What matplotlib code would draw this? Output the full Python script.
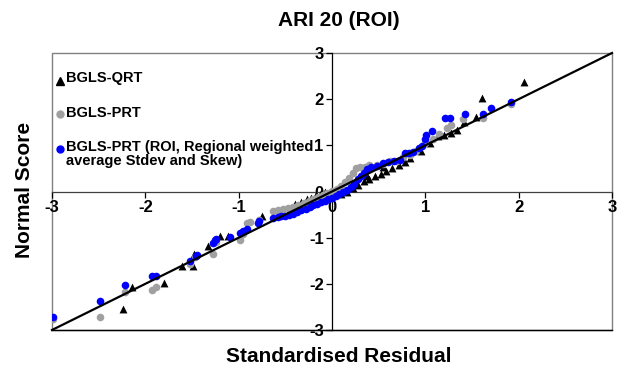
import matplotlib.pyplot as plt
from matplotlib.patches import Rectangle

plt.rcParams['font.family'] = ['Liberation Sans', 'DejaVu Sans']
plt.rcParams['font.weight'] = 'bold'

# BGLS-QRT
qrt_x = [-2.24, -2.14, -1.80, -1.61, -1.49, -1.48, -1.33, -1.20, -1.11, -0.75,
         -0.40, -0.33, -0.27, -0.22, -0.17, -0.12, -0.07, -0.02, 0.04, 0.10,
         0.16, 0.22, 0.28, 0.34, 0.37, 0.40, 0.46, 0.52, 0.55, 0.58, 0.64,
         0.72, 0.78, 0.84, 0.95, 1.05, 1.14, 1.20, 1.27, 1.34, 1.41, 1.54,
         1.61, 2.06]
qrt_y = [-2.54, -2.07, -1.98, -1.62, -1.62, -1.35, -1.17, -0.97, -0.97, -0.53,
         -0.28, -0.22, -0.16, -0.13, -0.08, -0.04, -0.02, 0.00, -0.04, -0.05,
         0.00, 0.07, 0.14, 0.22, 0.33, 0.28, 0.33, 0.38, 0.52, 0.44, 0.50,
         0.58, 0.64, 0.72, 0.88, 1.05, 1.20, 1.22, 1.27, 1.34, 1.50, 1.61,
         2.03, 2.37]

# BGLS-PRT
prt_x = [-2.99, -2.49, -2.22, -1.93, -1.89, -1.52, -1.47, -1.27, -1.24, -0.99,
         -0.95, -0.91, -0.88, -0.78, -0.63, -0.58, -0.52, -0.47, -0.42, -0.36,
         -0.30, -0.25, -0.20, -0.15, -0.10, -0.05, 0.00, 0.05, 0.10, 0.14,
         0.18, 0.22, 0.26, 0.30, 0.35, 0.40, 0.48, 0.55, 0.62, 0.70, 0.76,
         0.84, 0.90, 1.00, 1.08, 1.15, 1.23, 1.28, 1.40, 1.62, 1.92]
prt_y = [-2.77, -2.71, -2.18, -2.14, -2.07, -1.57, -1.42, -1.36, -1.10, -1.04,
         -0.92, -0.68, -0.66, -0.62, -0.43, -0.40, -0.38, -0.36, -0.33, -0.30,
         -0.25, -0.20, -0.16, -0.12, -0.07, -0.03, 0.02, 0.06, 0.12, 0.20,
         0.30, 0.40, 0.50, 0.52, 0.54, 0.57, 0.58, 0.60, 0.65, 0.66, 0.74,
         0.80, 0.88, 1.05, 1.13, 1.25, 1.38, 1.45, 1.56, 1.60, 1.90]

# BGLS-PRT with regional weighted average stdev and skew
roi_x = [-2.99, -2.49, -2.22, -1.93, -1.89, -1.52, -1.46, -1.45, -1.27, -1.25,
         -1.24, -1.09, -0.99, -0.95, -0.91, -0.79, -0.78, -0.63, -0.58, -0.55,
         -0.50, -0.46, -0.42, -0.38, -0.33, -0.28, -0.24, -0.20, -0.16, -0.12,
         -0.08, -0.04, 0.00, 0.04, 0.08, 0.12, 0.16, 0.20, 0.24, 0.28, 0.31,
         0.34, 0.37, 0.42, 0.48, 0.55, 0.60, 0.66, 0.73, 0.78, 0.82, 0.87,
         0.93, 0.96, 1.00, 1.01, 1.07, 1.21, 1.26, 1.43, 1.62, 1.70, 1.92]
roi_y = [-2.71, -2.37, -2.03, -1.82, -1.82, -1.51, -1.40, -1.37, -1.11, -1.06,
         -1.02, -0.99, -0.89, -0.86, -0.82, -0.68, -0.64, -0.57, -0.55, -0.54,
         -0.53, -0.51, -0.49, -0.45, -0.40, -0.37, -0.34, -0.30, -0.27, -0.23,
         -0.20, -0.16, -0.13, -0.09, -0.05, -0.01, 0.04, 0.10, 0.17, 0.26, 0.33,
         0.40, 0.48, 0.52, 0.55, 0.61, 0.63, 0.66, 0.69, 0.84, 0.84, 0.86,
         0.95, 0.98, 1.13, 1.23, 1.31, 1.60, 1.60, 1.67, 1.67, 1.81, 1.94]

line_x = [-3, 3]
line_y = [-3, 3]

ticks = [-3, -2, -1, 0, 1, 2, 3]

fig = plt.figure(figsize=(6.27, 3.74), dpi=100)
ax = fig.add_axes([52/627, 44/374, 560/627, 277/374])

ax.scatter(qrt_x, qrt_y, marker='^', s=32, color='black', linewidths=0, zorder=3)
ax.scatter(prt_x, prt_y, marker='o', s=30, color='#a0a0a0', linewidths=0, zorder=4)
ax.scatter(roi_x, roi_y, marker='o', s=30, color='#0000ff', linewidths=0, zorder=5)
ax.plot(line_x, line_y, color='black', lw=1.6, zorder=6, clip_on=False)

ax.set_xlim(-3, 3)
ax.set_ylim(-3, 3)

# axes crossing at the origin
ax.spines['left'].set_position('zero')
ax.spines['bottom'].set_position('zero')
ax.spines['left'].set_color('black')
ax.spines['bottom'].set_color('#404040')
ax.spines['left'].set_linewidth(0.9)
ax.spines['bottom'].set_linewidth(0.9)
ax.spines['top'].set_visible(False)
ax.spines['right'].set_visible(False)

# plot area border
ax.add_patch(Rectangle((0, 0), 1, 1, transform=ax.transAxes, fill=False,
                       edgecolor='#808080', lw=1.0, zorder=1, clip_on=False))
ax.plot([0, 1], [0, 0], transform=ax.transAxes, color='black', lw=1.0,
        clip_on=False, zorder=2)

ax.set_xticks(ticks)
ax.set_yticks(ticks)
ax.set_xticklabels([str(t) for t in ticks])
ax.set_yticklabels([str(t) for t in ticks])
ax.tick_params(axis='both', direction='out', length=4, width=0.9,
               labelsize=12, pad=2)
for lab in ax.get_xticklabels() + ax.get_yticklabels():
    lab.set_fontweight('bold')

fig.text(0.54, 1 - 20/374, 'ARI 20 (ROI)', ha='center', va='center',
         fontsize=15, fontweight='bold')
fig.text(0.54, 1 - 356/374, 'Standardised Residual', ha='center', va='center',
         fontsize=15, fontweight='bold')
fig.text(25/627, 1 - 190/374, 'Normal Score', ha='center', va='center',
         rotation=90, fontsize=15, fontweight='bold')

# legend drawn inside the plot area
ax.plot([0.0143], [0.899], marker='^', ms=6, color='black', lw=0,
        transform=ax.transAxes)
ax.text(0.025, 0.908, 'BGLS-QRT', transform=ax.transAxes, va='center',
        fontsize=10.5, fontweight='bold')
ax.plot([0.0143], [0.78], marker='o', ms=5, color='#a0a0a0', lw=0,
        transform=ax.transAxes)
ax.text(0.025, 0.782, 'BGLS-PRT', transform=ax.transAxes, va='center',
        fontsize=10.5, fontweight='bold')
ax.plot([0.0143], [0.653], marker='o', ms=5, color='#0000ff', lw=0,
        transform=ax.transAxes)
ax.text(0.025, 0.685, 'BGLS-PRT (ROI, Regional weighted\naverage Stdev and Skew)',
        transform=ax.transAxes, va='top', fontsize=10.5, fontweight='bold',
        linespacing=0.95)

fig.savefig('out.png', dpi=100)
